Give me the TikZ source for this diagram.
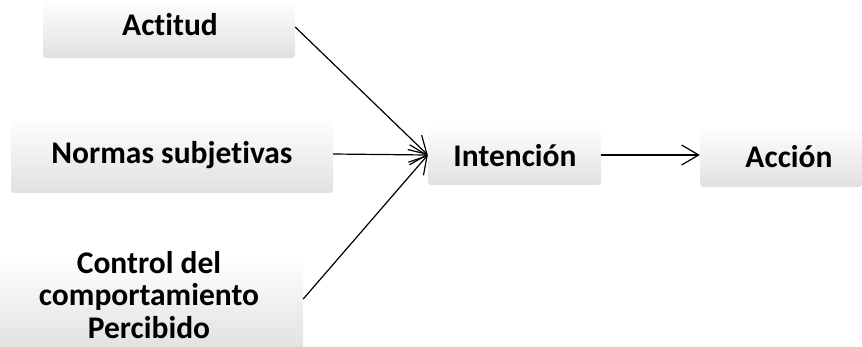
\documentclass[tikz,border=0pt]{standalone}
\usepackage{fontspec}
\setmainfont{Carlito}[Ligatures=NoCommon]
\usetikzlibrary{arrows.meta}
\begin{document}
\begin{tikzpicture}[x=1pt,y=-1pt,
  box/.style={rounded corners=3pt, top color=white, middle color=white,
    bottom color=black!12, inner sep=0pt, draw=none},
  lbl/.style={font=\fontsize{31.5}{32.5}\selectfont\bfseries, align=center, inner sep=0pt},
  link/.style={line width=1.2pt, -{Straight Barb[length=17pt,width=20pt,line width=1.2pt]}}]
\useasboundingbox (0,0) rectangle (862,346);
\clip (0,0) rectangle (862,346);
% boxes (white at the top, fading to light grey at the bottom)
\node[box, minimum width=252pt, minimum height=58pt] (act) at (169,29) {};
\node[box, minimum width=322pt, minimum height=76pt] (norm) at (172,155) {};
\node[box, minimum width=303pt, minimum height=96pt] (ctrl) at (151.5,304) {};
\node[box, minimum width=173pt, minimum height=60pt] (int) at (514.5,155) {};
\node[box, minimum width=162pt, minimum height=62pt] (acc) at (781,156) {};
% labels
\node[lbl] (actt) at (170,25) {Actitud};
\node[lbl] (normt) at (172,155) {Normas subjetivas};
\node[lbl] (ctrlt) at (149,295) {Control del\\comportamiento\\Percibido};
\node[lbl] (intt) at (515,156) {Intención};
\node[lbl] (acct) at (789,157) {Acción};
% connectors
\coordinate (in) at (int.west |- 0,155);
\draw[link] (act.east |- 0,27) -- (in);
\draw[link] (norm.east |- 0,154) -- (in);
\draw[link] (ctrl.east |- 0,299) -- (in);
\draw[link] (int.east |- 0,155) -- (acc.west |- 0,155);
\end{tikzpicture}
\end{document}
